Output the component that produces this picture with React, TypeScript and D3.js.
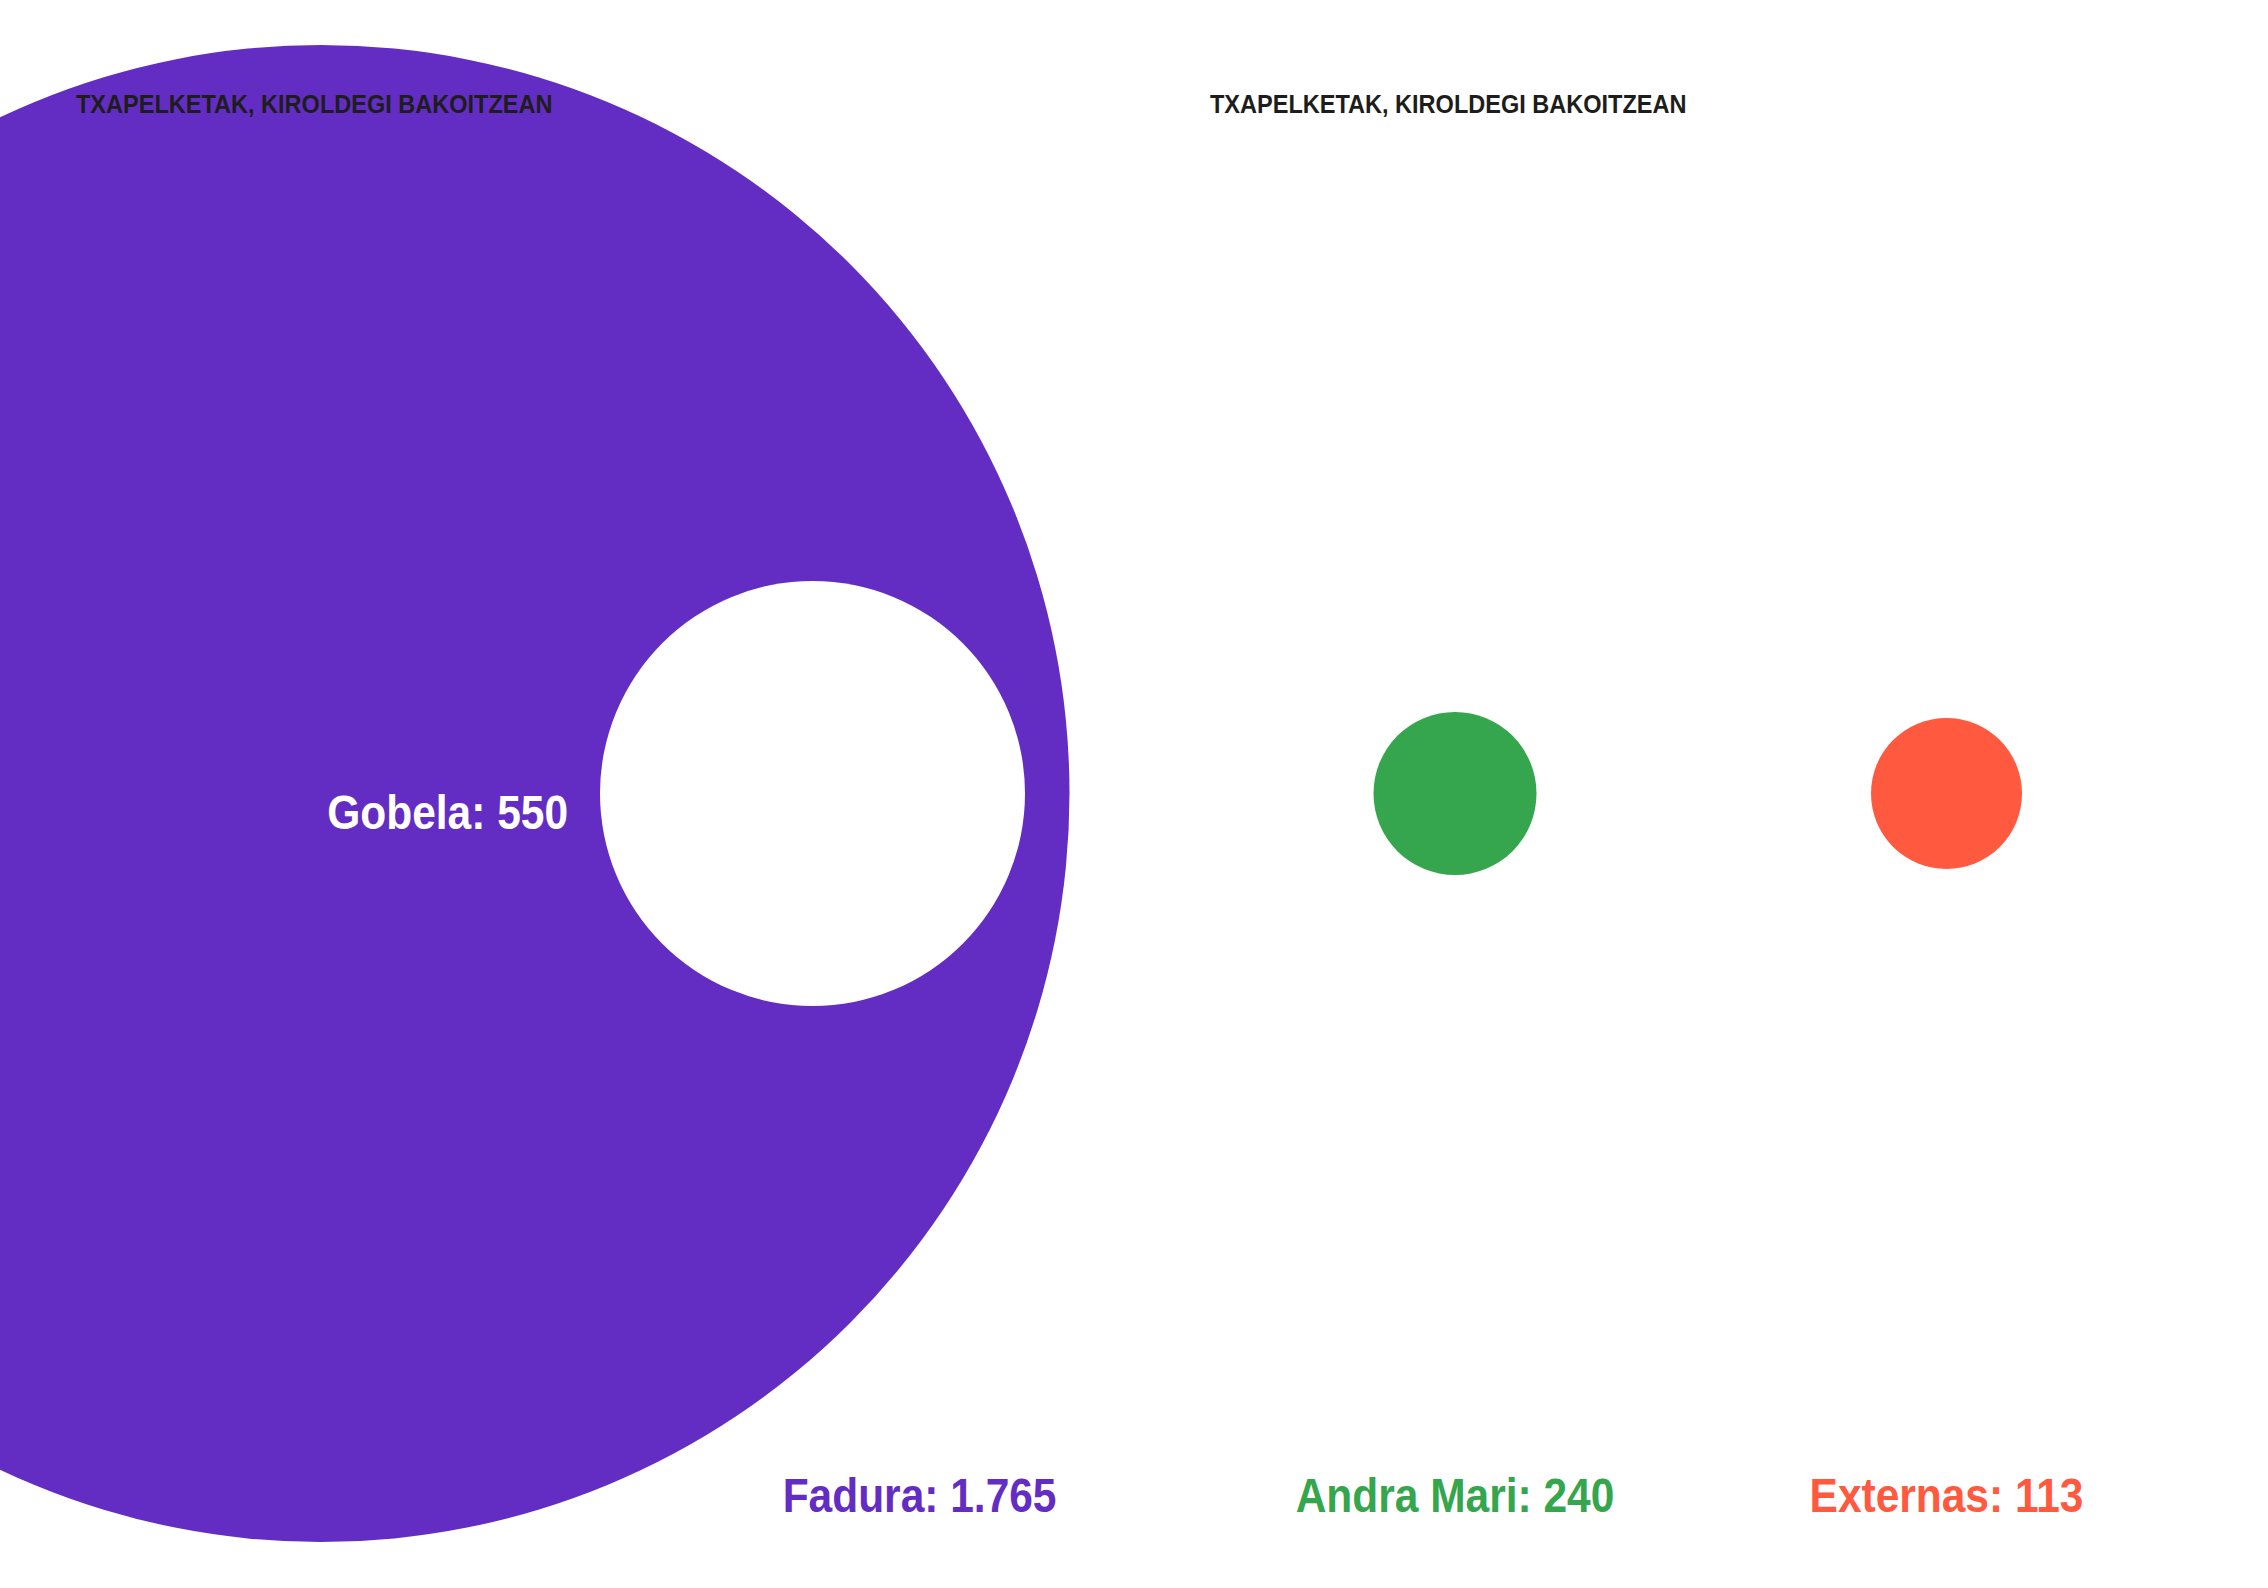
import React from "react";
import * as d3 from "d3";

// ---- data ----
const titles = ["TXAPELKETAK, KIROLDEGI BAKOITZEAN", "TXAPELKETAK, KIROLDEGI BAKOITZEAN"];
const venues = ["Fadura", "Gobela", "Andra Mari", "Externas"];
const counts = [1765, 550, 240, 113];
const panelOf = [0, 0, 1, 1];
const slotOf = [0, 1, 0, 1];
const fills = ["#632dc4", "#ffffff", "#35a64e", "#ff5940"];
const labelColors = ["#632dc4", "#ffffff", "#35a64e", "#ff5940"];

const W = 2268;
const H = 1588;
const CY = 793.5;
const FONT = "'Liberation Sans', Arial, sans-serif";

const fmt = d3.formatLocale({ decimal: ",", thousands: ".", grouping: [3], currency: ["", "€"] }).format(",");

export default function App() {
  const panelX = d3.scaleBand<number>().domain([0, 1]).range([0, W]);
  const slotX = d3.scaleLinear().domain([0, 1]).range([321, 812.5]);
  const rScales = [
    d3.scaleLinear().domain([550, 1765]).range([212.5, 748.5]),
    d3.scaleLinear().domain([113, 240]).range([75.5, 81.5]),
  ];

  const items = venues.map((v, i) => {
    const cx = (panelX(panelOf[i]) ?? 0) + slotX(slotOf[i]);
    const r = rScales[panelOf[i]](counts[i]);
    return { v, i, cx, r, label: `${v}: ${fmt(counts[i])}` };
  });

  const labelPos = (d: (typeof items)[number]) => {
    if (d.i === 0) return { x: d.cx + d.r - 13, y: 1512, anchor: "end" };
    if (d.i === 1) return { x: d.cx - d.r - 32, y: 829, anchor: "end" };
    return { x: d.cx, y: 1512, anchor: "middle" };
  };

  return (
    <svg width={W} height={H} style={{ position: "absolute", left: 0, top: 0, background: "#ffffff" }}>
      {items.map((d) => (
        <circle key={d.v} cx={d.cx} cy={CY} r={d.r} fill={fills[d.i]} />
      ))}
      {titles.map((t, p) => (
        <g key={p} transform={`translate(${(panelX(p) ?? 0) + 76},113) scale(0.905,1)`}>
          <text x={0} y={0} fontFamily={FONT} fontWeight={700} fontSize={26} fill="#1d1d1b">
            {t}
          </text>
        </g>
      ))}
      {items.map((d) => {
        const lp = labelPos(d);
        return (
          <g key={d.v + "-l"} transform={`translate(${lp.x},${lp.y}) scale(0.885,1)`}>
            <text
              x={0}
              y={0}
              textAnchor={lp.anchor as any}
              fontFamily={FONT}
              fontWeight={700}
              fontSize={48}
              fill={labelColors[d.i]}
            >
              {d.label}
            </text>
          </g>
        );
      })}
    </svg>
  );
}
